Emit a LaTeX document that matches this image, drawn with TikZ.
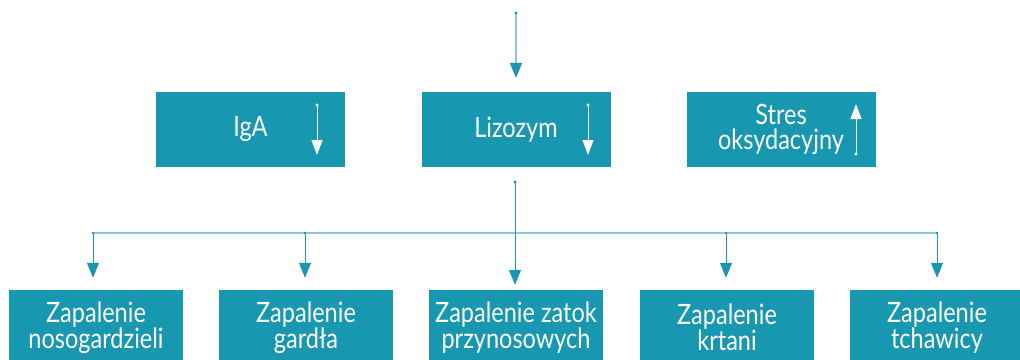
\documentclass[tikz,border=0pt]{standalone}
\usepackage{fontspec}
\setmainfont{Lato}[FakeStretch=0.84]
\usetikzlibrary{arrows.meta}
\definecolor{boxteal}{HTML}{1897B1}
\definecolor{lineteal}{HTML}{1E95AF}
\definecolor{lightteal}{HTML}{86CAD8}
\tikzset{
  tbox/.style={rectangle, fill=boxteal, text=white, inner sep=0pt, minimum height=75pt, align=center, font=\fontsize{28}{25.5}\selectfont},
  topbox/.style={tbox, minimum width=189pt},
  botbox/.style={tbox, minimum width=174pt},
  tealarrow/.style={-{Triangle[width=12pt,length=15pt]}, draw=lineteal, line width=1pt},
  whitearrow/.style={-{Triangle[width=11pt,length=15pt]}, draw=white, line width=1pt},
  dot/.style={circle, fill=#1, inner sep=0pt, minimum size=3.2pt},
}
\begin{document}
\begin{tikzpicture}[x=1pt,y=-1pt]
\useasboundingbox (0,0) rectangle (1020,359);
\clip (0,0) rectangle (1020,359);
% top boxes
\node[topbox] (iga) at (250.5,129.5) {IgA};
\node[topbox] (liz) at (516,129.5) {Lizozym};
\node[topbox] (str) at (781,129.5) {Stres\\oksydacyjny};
% bottom boxes
\node[botbox] (b1) at (96,327.5) {Zapalenie\\nosogardzieli};
\node[botbox] (b2) at (306,327.5) {Zapalenie\\gardła};
\node[botbox] (b3) at (516,327.5) {Zapalenie zatok\\przynosowych};
\node[botbox] (b4) at (727,327.5) {Zapalenie\\krtani};
\node[botbox] (b5) at (937,327.5) {Zapalenie\\tchawicy};
% top input arrow
\coordinate (in) at (516,13);
\draw[-{Triangle[width=12pt,length=15pt,color=lineteal]}, draw=lightteal, line width=2pt, shorten >=14pt] (in) -- (liz.north);
\node[dot=lineteal] at (in) {};
% arrows inside boxes
\coordinate (igaS) at (317,105);
\coordinate (igaE) at (317,155);
\draw[whitearrow] (igaS) -- (igaE);
\node[dot=white] at (igaS) {};
\coordinate (lizS) at (588,105);
\coordinate (lizE) at (588,155);
\draw[whitearrow] (lizS) -- (lizE);
\node[dot=white] at (lizS) {};
\coordinate (strS) at (856,154);
\coordinate (strE) at (856,104);
\draw[whitearrow] (strS) -- (strE);
\node[dot=white] at (strS) {};
% distribution
\coordinate (lizout) at (515,182);
\coordinate (br1) at (93,233);
\coordinate (br2) at (305,233);
\coordinate (br4) at (726,233);
\coordinate (br5) at (937,233);
\draw[draw=lightteal, line width=2pt] (br1) -- (br5);
\draw[tealarrow, shorten >=5pt] (lizout) -- (lizout |- b3.north);
\node[dot=lineteal] at (lizout) {};
\foreach \i in {1,2,4,5}{
  \draw[tealarrow, shorten >=12pt] (br\i) -- (br\i |- b\i.north);
  \node[dot=lineteal, minimum size=2.6pt] at (br\i) {};
}
\end{tikzpicture}
\end{document}
